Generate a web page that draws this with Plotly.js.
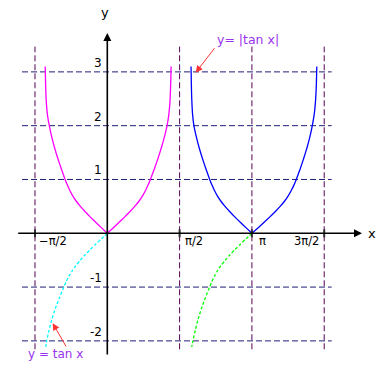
<!DOCTYPE html>
<html>
<head>
<meta charset="utf-8">
<script src="https://cdn.plot.ly/plotly-3.0.1.min.js"></script>
<style>html,body{margin:0;padding:0;background:#fff;}#chart{width:385px;height:368px;}</style>
</head>
<body>
<div id="chart"></div>
<script>
// ---- data (x in radians) ----
const absY = [0, 0.1, 0.2, 0.3, 0.4, 0.5, 0.6, 0.7, 0.8, 0.9, 1.0, 1.2, 1.4, 1.6, 1.8, 2.0, 2.2, 2.4, 2.6, 2.8, 3.0, 3.1];
const magL_x = [0, -0.124, -0.247, -0.367, -0.479, -0.584, -0.677, -0.754, -0.816, -0.87, -0.917, -1.0, -1.078, -1.149, -1.21, -1.26, -1.3, -1.322, -1.334, -1.341, -1.346, -1.349];
const magR_x = [0, 0.127, 0.252, 0.374, 0.489, 0.596, 0.691, 0.769, 0.833, 0.888, 0.936, 1.024, 1.104, 1.178, 1.244, 1.298, 1.336, 1.358, 1.37, 1.378, 1.384, 1.386];
const blueL_x = [3.1416, 3.0176, 2.8946, 2.7746, 2.6626, 2.5576, 2.4646, 2.3876, 2.3256, 2.2716, 2.2246, 2.1416, 2.0636, 1.9926, 1.9316, 1.8816, 1.8536, 1.8396, 1.8306, 1.8256, 1.8216, 1.8186];
const blueR_x = [3.1416, 3.2726, 3.4016, 3.5266, 3.6456, 3.7556, 3.8536, 3.9336, 3.9996, 4.0566, 4.1056, 4.1916, 4.2696, 4.3416, 4.4036, 4.4536, 4.4936, 4.5186, 4.5336, 4.5426, 4.5486, 4.5516];
const tanY = [0, -0.1, -0.2, -0.3, -0.4, -0.5, -0.6, -0.7, -0.8, -0.9, -1.0, -1.2, -1.4, -1.6, -1.8, -2.0, -2.11];
const cyan_x = [0, -0.124, -0.247, -0.367, -0.48, -0.586, -0.682, -0.764, -0.836, -0.895, -0.945, -1.04, -1.13, -1.205, -1.265, -1.317, -1.338];
const green_x = [3.1416, 3.0176, 2.8946, 2.7756, 2.6646, 2.5616, 2.4696, 2.3916, 2.3256, 2.2696, 2.2226, 2.1296, 2.0446, 1.9716, 1.9116, 1.8596, 1.8346];

const xTickVals = [-Math.PI/2, Math.PI/2, Math.PI, 3*Math.PI/2];
const xTickLabels = ['\u2212\u03c0/2', '\u03c0/2', '\u03c0', '3\u03c0/2'];
const yTickVals = [3, 2, 1, -1, -2];
const yTickLabels = ['3', '2', '1', '-1', '-2'];
const labelAbs = 'y= |tan x|';
const labelTan = 'y = tan x';

// ---- styling / layout ----
const FONT = 'DejaVu Sans, Verdana, sans-serif';
const xr = [-2.331, 6.033], yr = [-2.504, 4.336];
const gridX = [-1.853, 4.875];   // extent of horizontal dashed lines
const gridY = [-2.156, 3.47];    // extent of vertical dashed lines

function curve(x, y, color, dash) {
  return {x: x, y: y, type: 'scatter', mode: 'lines', hoverinfo: 'skip',
          line: {color: color, width: 1.3, dash: dash || 'solid', shape: 'spline', smoothing: 0.5}};
}
const traces = [
  curve(magL_x, absY, '#ff00ff'),
  curve(magR_x, absY, '#ff00ff'),
  curve(blueL_x, absY, '#0000ff'),
  curve(blueR_x, absY, '#0000ff'),
  curve(cyan_x, tanY, '#00ffff', '3px,2px'),
  curve(green_x, tanY, '#00ff00', '3px,2px')
];

const shapes = [];
yTickVals.forEach(v => shapes.push({type: 'line', xref: 'x', yref: 'y', x0: gridX[0], x1: gridX[1], y0: v, y1: v,
  line: {color: '#1f1f77', width: 1, dash: '6px,3px'}, layer: 'below'}));
xTickVals.forEach(v => shapes.push({type: 'line', xref: 'x', yref: 'y', x0: v, x1: v, y0: gridY[0], y1: gridY[1],
  line: {color: '#550055', width: 1, dash: '6px,3px'}, layer: 'below'}));
// tick marks on the x axis
xTickVals.forEach(v => shapes.push({type: 'line', xref: 'x', yref: 'y', x0: v, x1: v,
  ysizemode: 'pixel', yanchor: 0, y0: -4, y1: 4, line: {color: '#333333', width: 2}}));

const annotations = [];
// axes with arrows
annotations.push({xref: 'x', yref: 'y', axref: 'x', ayref: 'y', x: 5.533, y: 0, ax: -1.968, ay: 0,
  text: '', showarrow: true, arrowhead: 2, arrowsize: 1, arrowwidth: 1.6, arrowcolor: '#000', standoff: 0});
annotations.push({xref: 'x', yref: 'y', axref: 'x', ayref: 'y', x: 0, y: 3.723, ax: 0, ay: -2.28,
  text: '', showarrow: true, arrowhead: 2, arrowsize: 1, arrowwidth: 1.6, arrowcolor: '#000', standoff: 0});
annotations.push({xref: 'x', yref: 'y', x: 5.744, y: 0, text: 'x', showarrow: false,
  font: {family: FONT, size: 13, color: '#000'}, xanchor: 'center', yanchor: 'middle'});
annotations.push({xref: 'x', yref: 'y', x: -0.05, y: 4.095, text: 'y', showarrow: false,
  font: {family: FONT, size: 13, color: '#000'}, xanchor: 'center', yanchor: 'middle'});
// x tick labels
const xAnch = ['left', 'left', 'left', 'right'];
const xSh = [2, 3, 5, -3];
xTickVals.forEach((v, i) => annotations.push({xref: 'x', yref: 'y', x: v, y: 0, text: xTickLabels[i],
  showarrow: false, xanchor: xAnch[i], yanchor: 'middle', xshift: xSh[i], yshift: -8,
  font: {family: FONT, size: 11.5, color: '#000'}}));
// y tick labels
yTickVals.forEach((v, i) => annotations.push({xref: 'x', yref: 'y', x: 0, y: v, text: yTickLabels[i],
  showarrow: false, xanchor: 'right', yanchor: 'middle', xshift: -3, yshift: 9,
  font: {family: FONT, size: 12, color: '#000'}}));
// callouts
annotations.push({xref: 'x', yref: 'y', x: 3.057, y: 3.611, text: labelAbs, showarrow: false,
  font: {family: FONT, size: 12.5, color: '#9933ee'}, xanchor: 'center', yanchor: 'middle'});
annotations.push({xref: 'x', yref: 'y', axref: 'x', ayref: 'y', x: 1.920, y: 2.985, ax: 2.355, ay: 3.468,
  text: '', showarrow: true, arrowhead: 2, arrowsize: 1.4, arrowwidth: 1, arrowcolor: '#ff3333', standoff: 0});
annotations.push({xref: 'x', yref: 'y', x: -1.136, y: -2.243, text: labelTan, showarrow: false,
  font: {family: FONT, size: 12, color: '#9933ee'}, xanchor: 'center', yanchor: 'middle'});
annotations.push({xref: 'x', yref: 'y', axref: 'x', ayref: 'y', x: -1.186, y: -1.673, ax: -0.876, ay: -2.132,
  text: '', showarrow: true, arrowhead: 2, arrowsize: 1.4, arrowwidth: 1, arrowcolor: '#ff3333', standoff: 0});

const layout = {
  width: 385, height: 368, autosize: false,
  margin: {l: 0, r: 0, t: 0, b: 0, pad: 0},
  paper_bgcolor: '#fff', plot_bgcolor: '#fff',
  showlegend: false,
  xaxis: {range: xr, visible: false, fixedrange: true},
  yaxis: {range: yr, visible: false, fixedrange: true},
  shapes: shapes, annotations: annotations
};
Plotly.newPlot('chart', traces, layout, {staticPlot: true, displayModeBar: false});
</script>
</body>
</html>
